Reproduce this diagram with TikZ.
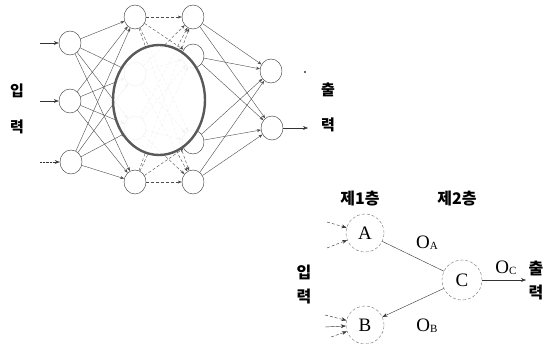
\documentclass[tikz,border=0pt]{standalone}
\usepackage{fontspec}
\setmainfont{Liberation Serif}
\newfontfamily\krfont{Noto Sans CJK KR}
\usetikzlibrary{arrows.meta,shapes.geometric}

\begin{document}
\begin{tikzpicture}[x=1pt, y=-1pt,
    neuron/.style={ellipse, draw=black!80, thin, fill=white,
                   minimum width=22pt, minimum height=24pt, inner sep=0pt},
    unit/.style={circle, draw=black!55, densely dashed, minimum size=38pt,
                 inner sep=0pt, font=\fontsize{19}{20}\selectfont},
    krlabel/.style={font=\krfont\bfseries\fontsize{15}{16}\selectfont, inner sep=0pt},
    krbig/.style={font=\krfont\bfseries\fontsize{16}{17}\selectfont, inner sep=0pt},
    olabel/.style={font=\fontsize{19}{20}\selectfont, inner sep=0pt},
    link/.style={-{Stealth[length=4pt]}, thin, black!70},
    arr/.style={-{Stealth[length=5pt]}, thin, black!80}
  ]
    \useasboundingbox (0,0) rectangle (553,343);

    % multilayer network
    \node[neuron] (i1) at (70,43) {};
    \node[neuron] (i2) at (70,101) {};
    \node[neuron] (i3) at (71,162) {};

    \node[neuron] (h1) at (135,17) {};
    \node[neuron] (h2) at (135,74) {};
    \node[neuron] (h3) at (135,128) {};
    \node[neuron] (h4) at (135,182) {};

    \node[neuron] (g1) at (193,17) {};
    \node[neuron] (g2) at (193,56) {};
    \node[neuron] (g3) at (193,142) {};
    \node[neuron] (g4) at (193,182) {};

    \node[neuron] (o1) at (271,71) {};
    \node[neuron] (o2) at (272,128) {};

    \foreach \a in {i1,i2,i3}
      \foreach \b in {h1,h2,h3,h4}
        \draw[link] (\a) -- (\b);
    \foreach \a in {h1,h2,h3,h4}
      \foreach \b in {g1,g2,g3,g4}
        \draw[link, densely dashed] (\a) -- (\b);
    \foreach \a in {g1,g2,g3,g4}
      \foreach \b in {o1,o2}
        \draw[link] (\a) -- (\b);

    % hidden part
    \node[ellipse, draw=black!65, line width=2.4pt, fill=white, fill opacity=0.92,
          minimum width=92pt, minimum height=110pt] (core) at (159,100) {};

    \coordinate (in1) at (40,43);
    \coordinate (in2) at (40,101);
    \coordinate (in3) at (40,162);
    \coordinate (out2) at (308,128);
    \draw[arr] (in1) -- (i1);
    \draw[arr] (in2) -- (i2);
    \draw[arr, densely dotted] (in3) -- (i3);
    \draw[arr] (o2) -- (out2);
    \node[circle, fill=black!80, inner sep=0.8pt] (dot) at (305,72) {};

    \node[krlabel] (inA) at (17,91) {입};
    \node[krlabel] (inB) at (17,127) {력};
    \node[krlabel] (outA) at (328,90) {출};
    \node[krlabel] (outB) at (328,125) {력};

    % two-layer example
    \node[krbig] (lay1) at (360,199) {제1층};
    \node[krbig] (lay2) at (457,199) {제2층};

    \node[unit] (A) at (365,233) {A};
    \node[unit] (B) at (365,325) {B};
    \node[unit, minimum size=40pt] (C) at (462,280) {C};

    \draw[thin, black!80] (A) -- (C);
    \draw[arr] (C) -- (B);

    \node[olabel] (oa) at (427,243) {O\raisebox{-0.15ex}{\fontsize{11}{11}\selectfont A}};
    \node[olabel] (ob) at (427,326) {O\raisebox{-0.15ex}{\fontsize{11}{11}\selectfont B}};
    \node[olabel] (oc) at (506,268) {O\raisebox{-0.15ex}{\fontsize{11}{11}\selectfont C}};

    \coordinate (oend) at (526,280);
    \draw[arr] (C) -- (oend);

    \coordinate (a1) at (327,222);
    \coordinate (a2) at (327,248);
    \coordinate (b1) at (325,315);
    \coordinate (b2) at (325,327);
    \coordinate (b3) at (331,337);
    \draw[arr, densely dashed] (a1) -- (A);
    \draw[arr, densely dashed] (a2) -- (A);
    \draw[arr, densely dashed] (b1) -- (B);
    \draw[arr] (b2) -- (B);
    \draw[arr, densely dashed] (b3) -- (B);

    \node[krbig] (in2A) at (304,272) {입};
    \node[krbig] (in2B) at (304,297) {력};
    \node[krbig] (out2A) at (536,268) {출};
    \node[krbig] (out2B) at (536,293) {력};
  \end{tikzpicture}
\end{document}
